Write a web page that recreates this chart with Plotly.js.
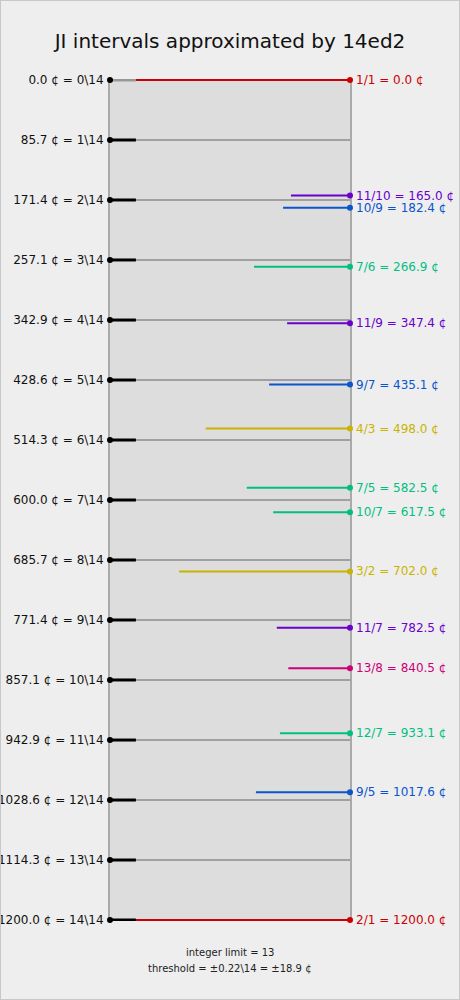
<!DOCTYPE html>
<html><head><meta charset="utf-8">
<script src="https://cdn.plot.ly/plotly-3.0.1.min.js"></script>
<style>body{margin:0;background:#eeeeee}#wrap{position:relative;width:460px;height:1000px}#frame{position:absolute;left:0;top:0;width:458px;height:998px;border:1px solid #c8c8c8;pointer-events:none}</style>
</head><body><div id="wrap"><div id="chart" style="width:460px;height:1000px"></div><div id="frame"></div></div>
<script>
// 14ed2 steps (cents) and their labels
const etCents = [0.0, 85.7, 171.4, 257.1, 342.9, 428.6, 514.3, 600.0, 685.7, 771.4, 857.1, 942.9, 1028.6, 1114.3, 1200.0];
const etLabels = ["0.0 ¢ = 0\\14","85.7 ¢ = 1\\14","171.4 ¢ = 2\\14","257.1 ¢ = 3\\14","342.9 ¢ = 4\\14","428.6 ¢ = 5\\14","514.3 ¢ = 6\\14","600.0 ¢ = 7\\14","685.7 ¢ = 8\\14","771.4 ¢ = 9\\14","857.1 ¢ = 10\\14","942.9 ¢ = 11\\14","1028.6 ¢ = 12\\14","1114.3 ¢ = 13\\14","1200.0 ¢ = 14\\14"];
// JI intervals
const jiRatios = ["1/1","11/10","10/9","7/6","11/9","9/7","4/3","7/5","10/7","3/2","11/7","13/8","12/7","9/5","2/1"];
const jiCents  = [0.0, 165.0, 182.4, 266.9, 347.4, 435.1, 498.0, 582.5, 617.5, 702.0, 782.5, 840.5, 933.1, 1017.6, 1200.0];
const jiLimit  = [2, 11, 5, 7, 11, 5, 3, 7, 7, 3, 11, 13, 7, 5, 2];
// relative line start (0 = left edge, 1 = right edge)
const jiStart  = [0.108, 0.754, 0.721, 0.600, 0.738, 0.663, 0.399, 0.570, 0.680, 0.288, 0.695, 0.743, 0.708, 0.608, 0.108];
const footer1 = "integer limit = 13";
const footer2 = "threshold = ±0.22\\14 = ±18.9 ¢";

const limitColor = {2:"#cc0000", 3:"#c8b400", 5:"#0a55cc", 7:"#00c080", 11:"#6a00cc", 13:"#cc0077"};
const tickLen = 0.108;
const pad = 10/7; // cents of headroom so edge lines are not clipped (1 px)
const plotH = 842;

const traces = [];
// gray step lines
const gx=[], gy=[];
etCents.forEach(c=>{gx.push(0,1,null); gy.push(c,c,null);});
traces.push({x:gx,y:gy,mode:'lines',line:{color:'#a0a0a0',width:2},hoverinfo:'skip'});
// JI lines
jiCents.forEach((c,i)=>{
  const col = limitColor[jiLimit[i]];
  traces.push({x:[jiStart[i],1],y:[c,c],mode:'lines',line:{color:col,width:2},hoverinfo:'skip'});
});
// black ticks
const bx=[], by=[];
etCents.forEach((c,i)=>{ if(i>0){bx.push(0,tickLen,null); by.push(c,c,null);} });
traces.push({x:bx,y:by,mode:'lines',line:{color:'#000',width:3},hoverinfo:'skip'});
traces.push({x:[0,tickLen],y:[etCents[0],etCents[0]],mode:'lines',line:{color:'#999',width:3},hoverinfo:'skip'});
// ET dots
traces.push({x:etCents.map(()=>0),y:etCents,mode:'markers',marker:{color:'#000',size:6},cliponaxis:false,hoverinfo:'skip'});
// JI dots
traces.push({x:jiCents.map(()=>1),y:jiCents,mode:'markers',marker:{color:jiLimit.map(l=>limitColor[l]),size:6},cliponaxis:false,hoverinfo:'skip'});

const annotations = jiCents.map((c,i)=>({
  x:1, y:c, xref:'x', yref:'y', text: jiRatios[i]+" = "+c.toFixed(1)+" ¢",
  showarrow:false, xanchor:'left', yanchor:'middle', xshift:4,
  font:{family:'DejaVu Sans', size:12, color:limitColor[jiLimit[i]]}
}));
annotations.push({x:0.5,y:-31/plotH,xref:'paper',yref:'paper',text:footer1,showarrow:false,xanchor:'center',yanchor:'middle',font:{family:'DejaVu Sans',size:10,color:'#222'}});
annotations.push({x:0.5,y:-47/plotH,xref:'paper',yref:'paper',text:footer2,showarrow:false,xanchor:'center',yanchor:'middle',font:{family:'DejaVu Sans',size:10,color:'#222'}});

const layout = {
  width:460, height:1000,
  margin:{l:110,r:110,t:79,b:79},
  paper_bgcolor:'#eeeeee', plot_bgcolor:'#dddddd',
  showlegend:false,
  title:{text:'JI intervals approximated by 14ed2', x:0.5, xanchor:'center', y:1-41/1000, yanchor:'middle', font:{family:'DejaVu Sans', size:20, color:'#111'}},
  xaxis:{range:[0,1], showgrid:false, zeroline:false, showticklabels:false, ticks:'', showline:false, fixedrange:true},
  yaxis:{range:[1200+pad,-pad], showgrid:false, zeroline:false, tickvals:etCents, ticktext:etLabels, ticks:'', ticklabelstandoff:2,
         tickfont:{family:'DejaVu Sans', size:12, color:'#111'}, showline:true, mirror:true, linecolor:'#aaaaaa', linewidth:2,
         layer:'below traces', fixedrange:true},
  annotations:annotations
};
Plotly.newPlot('chart', traces, layout, {displayModeBar:false, staticPlot:true});
</script></body></html>
